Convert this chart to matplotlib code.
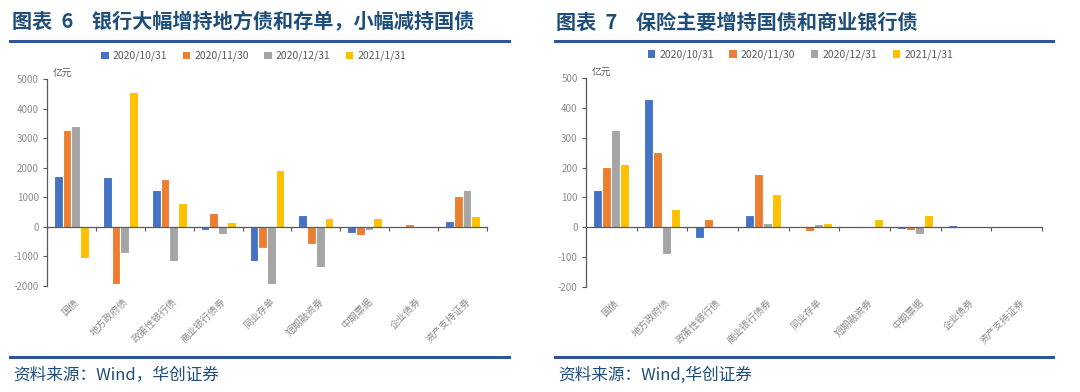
import numpy as np
import matplotlib
matplotlib.use("Agg")
import matplotlib.pyplot as plt
from matplotlib.patches import Patch
from matplotlib.lines import Line2D
import matplotlib.transforms as mtransforms

plt.rcParams['font.family'] = ['Noto Sans CJK SC', 'DejaVu Sans']

categories = ["国债", "地方政府债", "政策性银行债", "商业银行债券", "同业存单",
              "短期融资券", "中期票据", "企业债券", "资产支持证券"]
series_names = ["2020/10/31", "2020/11/30", "2020/12/31", "2021/1/31"]
colors = ["#4472C4", "#ED7D31", "#A5A5A5", "#FFC000"]

# 银行 (亿元)
bank_1031 = [1730, 1700, 1235, -90, -1145, 408, -215, -10, 204]
bank_1130 = [3260, -1940, 1620, 475, -700, -565, -283, 100, 1040]
bank_1231 = [3400, -870, -1155, -225, -1940, -1350, -100, 0, 1235]
bank_0131 = [-1040, 4550, 815, 170, 1915, 283, 295, -10, 362]

# 保险 (亿元)
ins_1031 = [125, 431, -35, 41, -3, -3, -5, 6, 0]
ins_1130 = [203, 253, 28, 177, -14, 0, -9, 2, 0]
ins_1231 = [325, -88, -1, 16, 10, 0, -23, 3, 0]
ins_0131 = [212, 60, 0, 113, 13, 28, 41, 0, 0]

bank_ticks = [-2000, -1000, 0, 1000, 2000, 3000, 4000, 5000]
ins_ticks = [-200, -100, 0, 100, 200, 300, 400, 500]

TITLE_C = "#1F4E79"
LINE_C = "#2F5597"
AXIS_C = "#595959"
LABEL_C = "#8C8C8C"

W, H = 1080, 392
fig = plt.figure(figsize=(W / 100, H / 100), dpi=100)


def px(x0, y0, x1, y1):
    # pixel box -> figure fraction rect
    return [x0 / W, 1 - y1 / H, (x1 - x0) / W, (y1 - y0) / H]


def panel(rect, data, yticks, title, title_x, line_x0, line_x1, source):
    ax = fig.add_axes(rect)
    n = len(categories)
    x = np.arange(n)
    slot = 0.178
    for i, (vals, c) in enumerate(zip(data, colors)):
        ax.bar(x + (i - 1.5) * slot, vals, width=slot, color=c,
               edgecolor="white", linewidth=0.8, zorder=2)
    ax.set_xlim(-0.5, n - 0.5)
    ax.set_ylim(yticks[0], yticks[-1])
    ax.set_yticks(yticks)
    ax.set_yticklabels([str(t) for t in yticks], fontsize=7, color=LABEL_C)

    for s in ["top", "right"]:
        ax.spines[s].set_visible(False)
    ax.spines["left"].set_color(AXIS_C)
    ax.spines["left"].set_linewidth(0.9)
    ax.spines["bottom"].set_position(("data", 0))
    ax.spines["bottom"].set_color(AXIS_C)
    ax.spines["bottom"].set_linewidth(0.9)
    ax.tick_params(axis="y", direction="out", length=3, color=AXIS_C, pad=3)
    ax.set_xticks(np.arange(n + 1) - 0.5)
    ax.set_xticklabels([])
    ax.tick_params(axis="x", direction="out", length=3, color=AXIS_C)

    trans = mtransforms.blended_transform_factory(ax.transData, ax.transAxes)
    for xi, lab in zip(x, categories):
        ax.text(xi + 0.05, -0.05, lab, transform=trans, rotation=45,
                ha="right", va="top", rotation_mode="anchor",
                fontsize=7, color=LABEL_C)

    ax.text(0.012, 1.0, "亿元", transform=ax.transAxes, fontsize=7,
            color=AXIS_C, ha="left", va="bottom")

    handles = [Patch(facecolor=c, edgecolor="none") for c in colors]
    ax.legend(handles, series_names, loc="lower center",
              bbox_to_anchor=(0.47, 1.04), ncol=4, frameon=False,
              fontsize=7.5, handlelength=0.7, handleheight=0.7,
              handletextpad=0.4, columnspacing=1.5, labelcolor=AXIS_C)

    fig.text(title_x / W, 1 - 22 / H, title, fontsize=14.5, fontweight="bold",
             color=TITLE_C, ha="left", va="center")
    fig.add_artist(Line2D([line_x0 / W, line_x1 / W], [1 - 41 / H, 1 - 41 / H],
                          color=LINE_C, linewidth=2.2))
    fig.add_artist(Line2D([line_x0 / W, line_x1 / W], [1 - 357 / H, 1 - 357 / H],
                          color=LINE_C, linewidth=2.2))
    fig.text((line_x0 + 3) / W, 1 - 375 / H, source, fontsize=12,
             color=TITLE_C, ha="left", va="center")
    return ax


panel(px(47, 79, 487, 286), [bank_1031, bank_1130, bank_1231, bank_0131],
      bank_ticks, "图表  6    银行大幅增持地方债和存单，小幅减持国债",
      12, 10, 509, "资料来源：Wind，华创证券")
panel(px(586, 78, 1042, 287), [ins_1031, ins_1130, ins_1231, ins_0131],
      ins_ticks, "图表  7    保险主要增持国债和商业银行债",
      556, 555, 1053, "资料来源：Wind,华创证券")

fig.savefig("out.png", dpi=100)
